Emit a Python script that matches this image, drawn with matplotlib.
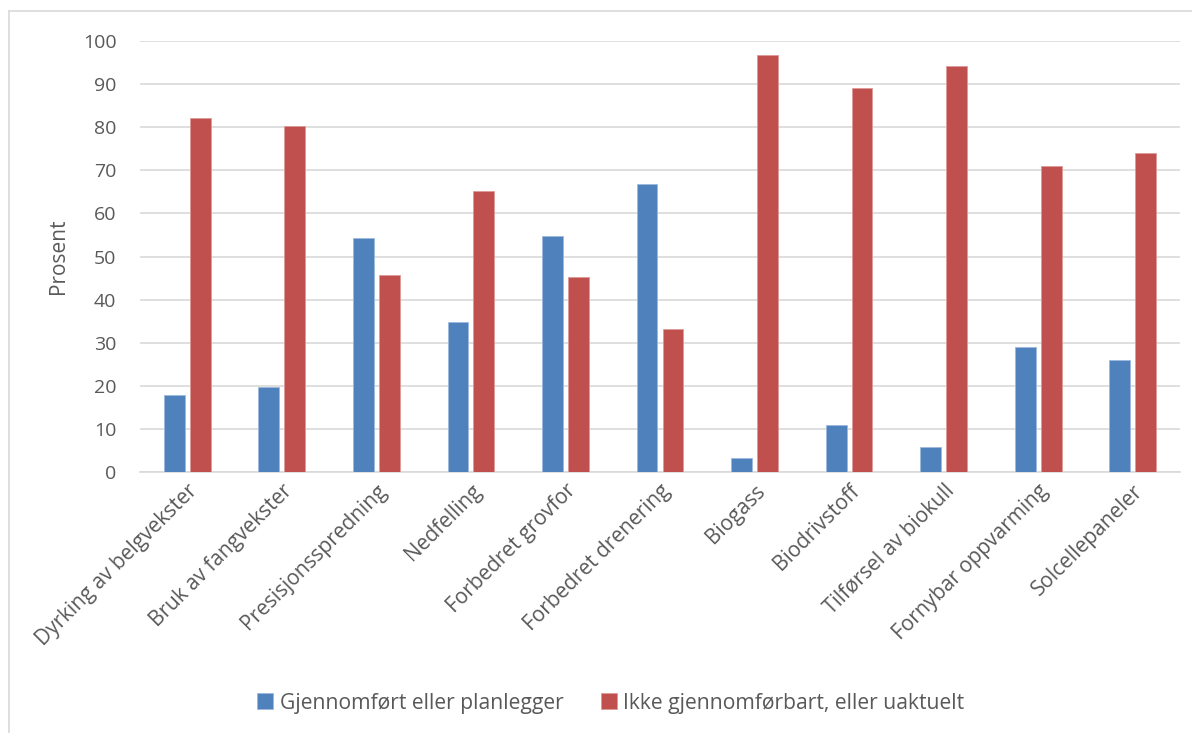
import matplotlib
matplotlib.use("Agg")
import matplotlib.pyplot as plt
import numpy as np

plt.rcParams['font.family'] = ['Open Sans', 'DejaVu Sans']

kategorier = ["Dyrking av belgvekster", "Bruk av fangvekster", "Presisjonsspredning",
              "Nedfelling", "Forbedret grovfor", "Forbedret drenering", "Biogass",
              "Biodrivstoff", "Tilførsel av biokull", "Fornybar oppvarming", "Solcellepaneler"]
gjennomfort = [17.8, 19.7, 54.3, 34.7, 54.8, 66.9, 3.2, 10.8, 5.7, 29.0, 26.0]
ikke_aktuelt = [82.2, 80.3, 45.7, 65.3, 45.2, 33.1, 96.8, 89.2, 94.3, 71.0, 74.0]
serienavn = ["Gjennomført eller planlegger", "Ikke gjennomførbart, eller uaktuelt"]

fig = plt.figure(figsize=(11.92, 7.33), dpi=100)
ax = fig.add_axes([140/1192, 1-472/733, 1040/1192, 431/733])

x = np.arange(len(kategorier))
w = 0.22
ax.bar(x - 0.137, gjennomfort, w, color='#4F81BD', edgecolor='#9db9dc', linewidth=0.6,
       label=serienavn[0], zorder=3)
ax.bar(x + 0.137, ikke_aktuelt, w, color='#C0504D', edgecolor='#dd9a98', linewidth=0.6,
       label=serienavn[1], zorder=3)

ax.set_xlim(-0.5, len(kategorier) - 0.5)
ax.set_ylim(0, 100)
ax.set_yticks(range(0, 101, 10))
ax.grid(axis='y', color='#d9d9d9', linewidth=1.2, zorder=0)
for s in ['top', 'right', 'left']:
    ax.spines[s].set_visible(False)
ax.spines['bottom'].set_color('#d9d9d9')
ax.spines['bottom'].set_linewidth(1.2)
ax.tick_params(axis='both', length=0, colors='#595959')
ax.tick_params(axis='y', pad=17, labelsize=14)
ax.tick_params(axis='x', pad=6, labelsize=15)
ax.set_xticks(x)
ax.set_xticklabels(kategorier, rotation=45, ha='right', rotation_mode='anchor')
ax.set_ylabel("Prosent", fontsize=15, color='#595959', labelpad=10)

ax.legend(loc='center', bbox_to_anchor=((611-140)/1040, (472-703)/431), ncol=2, frameon=False,
          fontsize=15.2, labelcolor='#595959', handlelength=0.75, handleheight=0.75,
          columnspacing=1.8, handletextpad=0.3)

# kantlinje oppe og til venstre
fig.add_artist(plt.Line2D([9/1192, 9/1192], [0, 1-11/733], transform=fig.transFigure,
                          color='#d9d9d9', linewidth=1.2))
fig.add_artist(plt.Line2D([9/1192, 1], [1-11/733, 1-11/733], transform=fig.transFigure,
                          color='#d9d9d9', linewidth=1.2))

fig.savefig("out.png", dpi=100, facecolor='white')
